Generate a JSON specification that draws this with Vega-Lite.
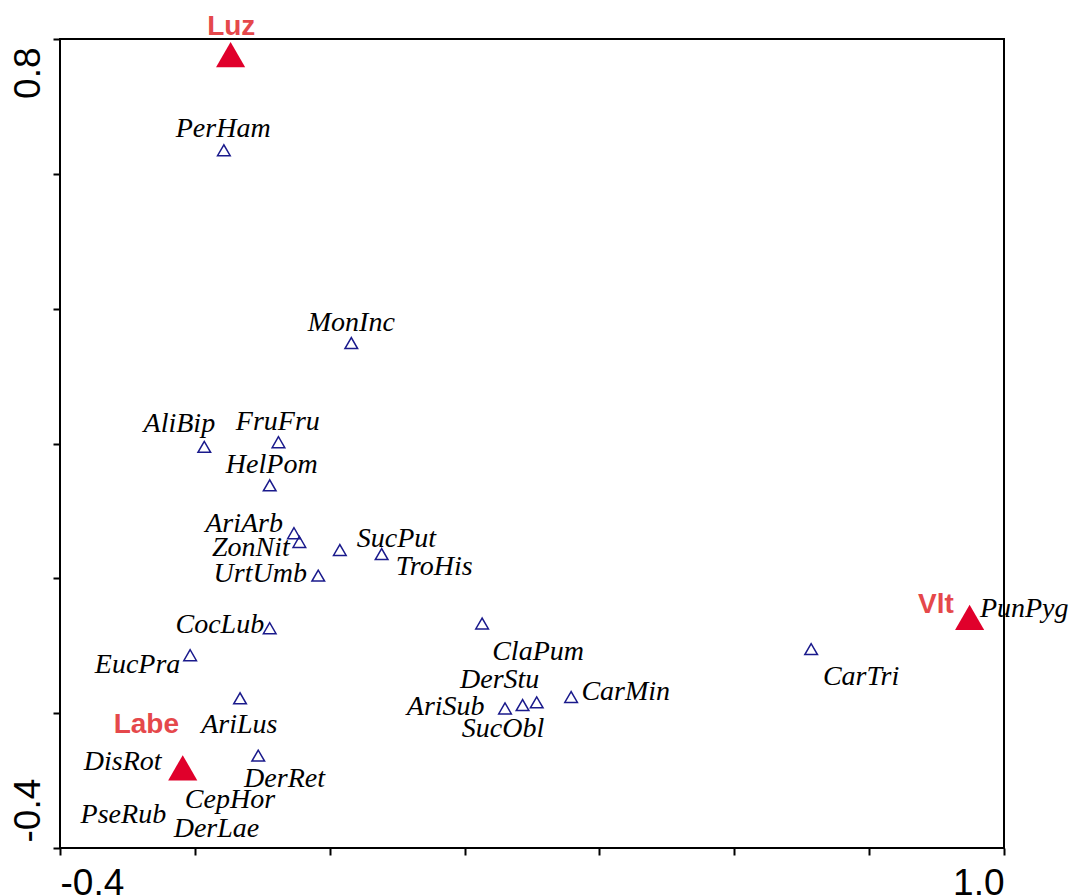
{
  "$schema": "https://vega.github.io/schema/vega-lite/v6.json",
  "width": 944,
  "height": 809,
  "autosize": {"type": "none"},
  "padding": {"left": 60, "top": 39, "right": 65, "bottom": 47},
  "background": "white",
  "config": {
    "view": {"stroke": "black", "strokeWidth": 2},
    "axis": {"grid": false, "domain": false}
  },
  "datasets": {
    "species": [
      {"name": "PerHam", "x": -0.157, "y": 0.635, "labelX": -0.158, "labelY": 0.654},
      {"name": "MonInc", "x": 0.032, "y": 0.349, "labelX": 0.032, "labelY": 0.367},
      {"name": "AliBip", "x": -0.186, "y": 0.195, "labelX": -0.223, "labelY": 0.217},
      {"name": "FruFru", "x": -0.076, "y": 0.202, "labelX": -0.077, "labelY": 0.220},
      {"name": "HelPom", "x": -0.089, "y": 0.138, "labelX": -0.086, "labelY": 0.156},
      {"name": "AriArb", "x": -0.053, "y": 0.067, "labelX": -0.127, "labelY": 0.069},
      {"name": "ZonNit", "x": -0.045, "y": 0.054, "labelX": -0.117, "labelY": 0.033},
      {"name": "UrtUmb", "x": -0.017, "y": 0.004, "labelX": -0.103, "labelY": -0.005},
      {"name": "SucPut", "x": 0.015, "y": 0.042, "labelX": 0.099, "labelY": 0.047},
      {"name": "TroHis", "x": 0.077, "y": 0.036, "labelX": 0.155, "labelY": 0.005},
      {"name": "CocLub", "x": -0.089, "y": -0.074, "labelX": -0.163, "labelY": -0.081},
      {"name": "EucPra", "x": -0.207, "y": -0.114, "labelX": -0.285, "labelY": -0.140},
      {"name": "AriLus", "x": -0.133, "y": -0.178, "labelX": -0.134, "labelY": -0.230},
      {"name": "DerRet", "x": -0.106, "y": -0.263, "labelX": -0.067, "labelY": -0.310},
      {"name": "ClaPum", "x": 0.226, "y": -0.067, "labelX": 0.309, "labelY": -0.121},
      {"name": "CarMin", "x": 0.358, "y": -0.176, "labelX": 0.439, "labelY": -0.180},
      {"name": "AriSub", "x": 0.260, "y": -0.193, "labelX": 0.172, "labelY": -0.202},
      {"name": "SucObl", "x": 0.286, "y": -0.188, "labelX": 0.257, "labelY": -0.236},
      {"name": "DerStu", "x": 0.307, "y": -0.184, "labelX": 0.252, "labelY": -0.163},
      {"name": "CarTri", "x": 0.714, "y": -0.105, "labelX": 0.788, "labelY": -0.158},
      {"name": "PunPyg", "x": 0.949, "y": -0.058, "labelX": 1.030, "labelY": -0.057},
      {"name": "DisRot", "x": -0.218, "y": -0.281, "labelX": -0.307, "labelY": -0.284},
      {"name": "CepHor", "x": -0.217, "y": -0.282, "labelX": -0.148, "labelY": -0.341},
      {"name": "PseRub", "x": -0.219, "y": -0.281, "labelX": -0.306, "labelY": -0.363},
      {"name": "DerLae", "x": -0.218, "y": -0.280, "labelX": -0.168, "labelY": -0.383}
    ],
    "env": [
      {"name": "Luz", "x": -0.147, "y": 0.777, "labelX": -0.146, "labelY": 0.806},
      {"name": "Vlt", "x": 0.949, "y": -0.058, "labelX": 0.899, "labelY": -0.052},
      {"name": "Labe", "x": -0.218, "y": -0.281, "labelX": -0.272, "labelY": -0.230}
    ]
  },
  "layer": [
    {
      "mark": {"type": "rule", "strokeDash": [3, 3], "color": "#333333", "strokeWidth": 1},
      "encoding": {
        "x": {"datum": 0, "type": "quantitative", "scale": {"domain": [-0.4, 1.0], "nice": false, "zero": false},
          "axis": {
            "title": null,
            "values": [-0.4, -0.2, 0, 0.2, 0.4, 0.6, 0.8, 1.0],
            "labelExpr": "datum.value < -0.3 ? '-0.4' : (datum.value > 0.9 ? '1.0' : '')",
            "labelFont": "Liberation Sans",
            "labelFontSize": 37,
            "labelColor": "black",
            "labelFlush": true,
            "labelPadding": 10,
            "tickSize": 7,
            "tickWidth": 2,
            "tickColor": "black"
          }
        }
      }
    },
    {
      "mark": {"type": "rule", "strokeDash": [3, 3], "color": "#333333", "strokeWidth": 1},
      "encoding": {
        "y": {"datum": 0, "type": "quantitative", "scale": {"domain": [-0.4, 0.8], "nice": false, "zero": false},
          "axis": {
            "title": null,
            "values": [-0.4, -0.2, 0, 0.2, 0.4, 0.6, 0.8],
            "labelExpr": "datum.value < -0.3 ? '-0.4' : (datum.value > 0.7 ? '0.8' : '')",
            "labelFont": "Liberation Sans",
            "labelFontSize": 37,
            "labelColor": "black",
            "labelAngle": -90,
            "labelAlign": {"condition": {"test": "datum.value > 0", "value": "right"}, "value": "left"},
            "labelBaseline": "bottom",
            "labelOffset": {"condition": {"test": "datum.value > 0", "value": 8}, "value": -6},
            "labelPadding": 6,
            "tickSize": 7,
            "tickWidth": 2,
            "tickColor": "black"
          }
        }
      }
    },
    {
      "data": {"name": "species"},
      "mark": {"type": "point", "shape": "triangle-up", "filled": false, "stroke": "#1a1a8c", "strokeWidth": 1.5, "size": 160, "opacity": 1},
      "encoding": {
        "x": {"field": "x", "type": "quantitative", "scale": {"domain": [-0.4, 1.0], "nice": false, "zero": false}, "axis": {"title": null}},
        "y": {"field": "y", "type": "quantitative", "scale": {"domain": [-0.4, 0.8], "nice": false, "zero": false}, "axis": {"title": null}}
      }
    },
    {
      "data": {"name": "species"},
      "mark": {"type": "text", "font": "Liberation Serif", "fontStyle": "italic", "fontSize": 28, "color": "black", "align": "center", "baseline": "alphabetic"},
      "encoding": {
        "x": {"field": "labelX", "type": "quantitative", "scale": {"domain": [-0.4, 1.0], "nice": false, "zero": false}, "axis": {"title": null}},
        "y": {"field": "labelY", "type": "quantitative", "scale": {"domain": [-0.4, 0.8], "nice": false, "zero": false}, "axis": {"title": null}},
        "text": {"field": "name"}
      }
    },
    {
      "data": {"name": "env"},
      "mark": {"type": "point", "shape": "triangle-up", "filled": true, "color": "#e0002b", "size": 850, "opacity": 1},
      "encoding": {
        "x": {"field": "x", "type": "quantitative", "scale": {"domain": [-0.4, 1.0], "nice": false, "zero": false}, "axis": {"title": null}},
        "y": {"field": "y", "type": "quantitative", "scale": {"domain": [-0.4, 0.8], "nice": false, "zero": false}, "axis": {"title": null}}
      }
    },
    {
      "data": {"name": "env"},
      "mark": {"type": "text", "font": "Liberation Sans", "fontWeight": "bold", "fontSize": 28, "color": "#e5484b", "align": "center", "baseline": "alphabetic"},
      "encoding": {
        "x": {"field": "labelX", "type": "quantitative", "scale": {"domain": [-0.4, 1.0], "nice": false, "zero": false}, "axis": {"title": null}},
        "y": {"field": "labelY", "type": "quantitative", "scale": {"domain": [-0.4, 0.8], "nice": false, "zero": false}, "axis": {"title": null}},
        "text": {"field": "name"}
      }
    }
  ]
}
